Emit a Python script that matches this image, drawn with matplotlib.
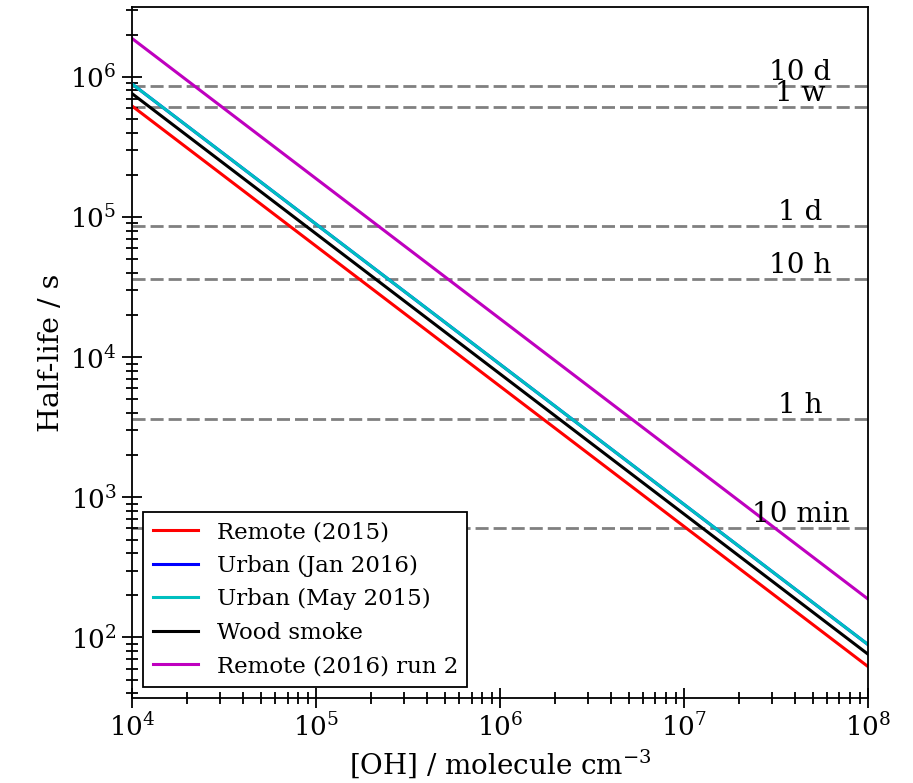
import numpy as np
import matplotlib
matplotlib.use("Agg")
import matplotlib.pyplot as plt

plt.rcParams['font.family'] = ['DejaVu Serif']
plt.rcParams['mathtext.fontset'] = 'dejavuserif'

# [OH] range (molecule cm-3) and half-lives (s) read at both ends
oh_ends = [1e4, 1e8]
labels = ["Remote (2015)", "Urban (Jan 2016)", "Urban (May 2015)",
          "Wood smoke", "Remote (2016) run 2"]
colors = ['r', 'b', (0, 0.75, 0.75), 'k', (0.75, 0, 0.75)]
remote_2015 = [6.2e5, 62]
urban_jan_2016 = [8.9e5, 89]
urban_may_2015 = [8.9e5, 89]
wood_smoke = [7.6e5, 76]
remote_2016_run2 = [1.88e6, 188]
series = [remote_2015, urban_jan_2016, urban_may_2015, wood_smoke, remote_2016_run2]

# reference time scales (s)
ref_names = ["10 d", "1 w", "1 d", "10 h", "1 h", "10 min"]
ref_secs = [864000, 604800, 86400, 36000, 3600, 600]

fig = plt.figure(figsize=(9.13, 7.83), dpi=100)
ax = fig.add_axes([0.1446, 0.1086, 0.8061, 0.8824])

for name, s in zip(ref_names, ref_secs):
    ax.axhline(s, color='0.5', lw=2, dashes=(4.7, 1.8), zorder=1)
    ax.text(4.3e7, s, name, ha='center', va='bottom', fontsize=20, zorder=3)

for lab, col, vals in zip(labels, colors, series):
    ax.plot(oh_ends, vals, color=col, lw=2.2, label=lab, zorder=2)

ax.set_xscale('log')
ax.set_yscale('log')
ax.set_xlim(1e4, 1e8)
ax.margins(y=0.05)

ax.set_xlabel("[OH] / molecule cm$^{-3}$", fontsize=20)
ax.set_ylabel("Half-life / s", fontsize=20.5)

ax.tick_params(which='both', direction='inout', top=False, right=False,
               labelsize=19, width=1.3)
ax.tick_params(which='major', length=15)
ax.tick_params(which='minor', length=9)
for sp in ax.spines.values():
    sp.set_linewidth(1.3)

leg = ax.legend(loc='lower left', fontsize=16.5, fancybox=False, framealpha=1,
                edgecolor='k', borderaxespad=0.5)
leg.get_frame().set_linewidth(1.3)

fig.savefig("out.png", dpi=100)
